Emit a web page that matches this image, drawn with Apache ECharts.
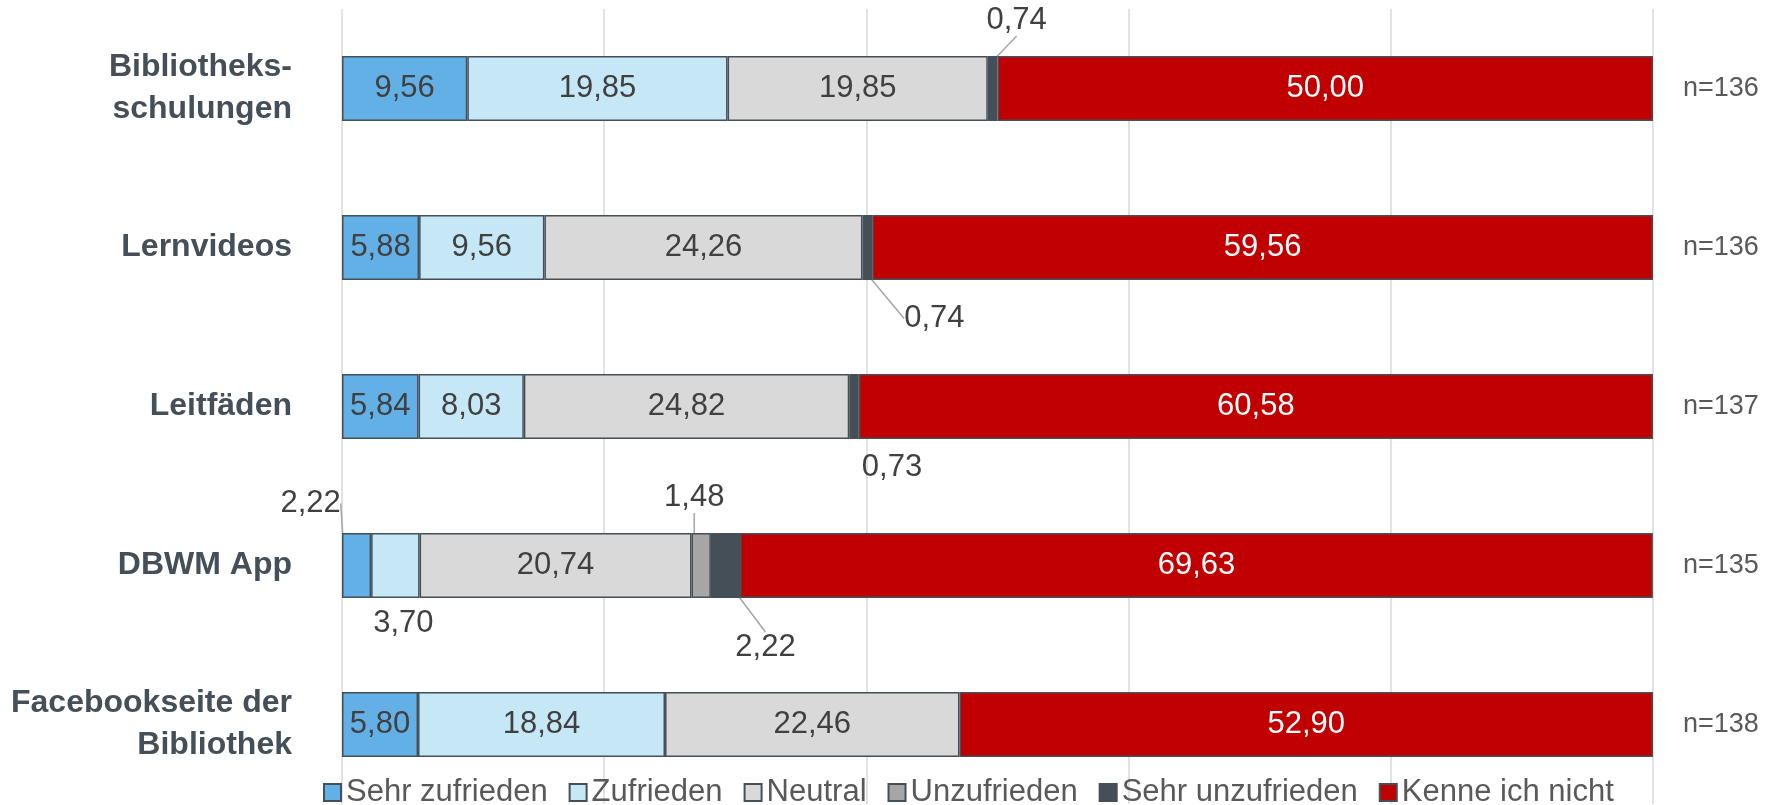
<!DOCTYPE html>
<html>
<head>
<meta charset="utf-8">
<script src="https://cdn.jsdelivr.net/npm/echarts@6/dist/echarts.min.js"></script>
<style>
html,body{margin:0;padding:0;background:#fff;}
#chart{width:1777px;height:805px;}
</style>
</head>
<body>
<div id="chart"></div>
<script>
const categories = ['Bibliotheks-\nschulungen', 'Lernvideos', 'Leitfäden', 'DBWM App', 'Facebookseite der\nBibliothek'];
const seriesNames = ['Sehr zufrieden', 'Zufrieden', 'Neutral', 'Unzufrieden', 'Sehr unzufrieden', 'Kenne ich nicht'];
const sehrZufrieden   = [9.56, 5.88, 5.84, 2.22, 5.80];
const zufrieden       = [19.85, 9.56, 8.03, 3.70, 18.84];
const neutral         = [19.85, 24.26, 24.82, 20.74, 22.46];
const unzufrieden     = [0, 0, 0, 1.48, 0];
const sehrUnzufrieden = [0.74, 0.74, 0.73, 2.22, 0];
const kenneNicht      = [50.00, 59.56, 60.58, 69.63, 52.90];
const nLabels = ['n=136', 'n=136', 'n=137', 'n=135', 'n=138'];
const xTicks = [0, 20, 40, 60, 80, 100];

const values = [sehrZufrieden, zufrieden, neutral, unzufrieden, sehrUnzufrieden, kenneNicht];
const colors = ['#62B0E6', '#C5E7F6', '#D9D9D9', '#A6A6A6', '#454F57', '#C00000'];
const labelColors = ['#404040', '#404040', '#404040', '#404040', '#FFFFFF', '#FFFFFF'];

// callout label placement (offsets from segment centre), keyed "series:row"
const callouts = {
  '0:3': {dx: -46, dy: -62, line: true},
  '1:3': {dx: 8, dy: 58, line: false},
  '3:3': {dx: -7, dy: -68, line: true},
  '4:0': {dx: 24, dy: -68, line: true},
  '4:1': {dx: 67, dy: 71, line: true},
  '4:2': {dx: 38, dy: 61, line: false},
  '4:3': {dx: 40, dy: 82, line: true}
};

const FONT = '"Liberation Sans", Arial, sans-serif';
const fmt = v => Number(v).toFixed(2).replace('.', ',');

const series = values.map((arr, si) => ({
  name: seriesNames[si],
  type: 'bar',
  stack: 'total',
  barWidth: 65,
  yAxisIndex: 0,
  itemStyle: {color: colors[si], borderColor: '#454F57', borderWidth: 1.5},
  label: {
    show: true,
    position: 'inside',
    fontFamily: FONT,
    fontSize: 31,
    color: labelColors[si],
    formatter: p => fmt(p.value)
  },
  labelLine: {show: false, lineStyle: {color: '#A6A6A6', width: 1.5}},
  labelLayout: function (p) {
    const c = callouts[p.seriesIndex + ':' + p.dataIndex];
    return c ? {dx: c.dx, dy: c.dy} : {};
  },
  data: arr.map((v, di) => {
    if (v === 0) return '-';
    const c = callouts[si + ':' + di];
    if (!c) return v;
    return {
      value: v,
      label: {color: '#404040'},
      labelLine: {show: c.line, lineStyle: {color: '#A6A6A6', width: 1.5}}
    };
  })
}));

const chart = echarts.init(document.getElementById('chart'));
chart.setOption({
  animation: false,
  backgroundColor: '#ffffff',
  textStyle: {fontFamily: FONT},
  grid: {left: 342, right: 124, top: 9, height: 795, containLabel: false},
  legend: {
    data: seriesNames,
    left: 318,
    top: 772,
    icon: 'rect',
    itemWidth: 17,
    itemHeight: 17,
    itemGap: 21,
    textStyle: {fontFamily: FONT, fontSize: 31, color: '#595959'}
  },
  xAxis: {
    type: 'value',
    min: xTicks[0],
    max: xTicks[xTicks.length - 1],
    interval: xTicks[1] - xTicks[0],
    axisLabel: {show: false},
    axisLine: {show: false},
    axisTick: {show: false},
    splitLine: {show: true, lineStyle: {color: '#D9D9D9', width: 1.5}}
  },
  yAxis: [
    {
      type: 'category',
      data: categories,
      inverse: true,
      axisLine: {show: false},
      axisTick: {show: false},
      axisLabel: {
        margin: 50,
        fontFamily: FONT,
        fontSize: 32,
        fontWeight: 'bold',
        color: '#454F57',
        lineHeight: 42,
        align: 'right'
      }
    },
    {
      type: 'category',
      data: nLabels,
      inverse: true,
      position: 'right',
      axisLine: {show: false},
      axisTick: {show: false},
      axisLabel: {
        margin: 30,
        fontFamily: FONT,
        fontSize: 27,
        color: '#595959',
        align: 'left'
      }
    }
  ],
  series: series
});
</script>
</body>
</html>
